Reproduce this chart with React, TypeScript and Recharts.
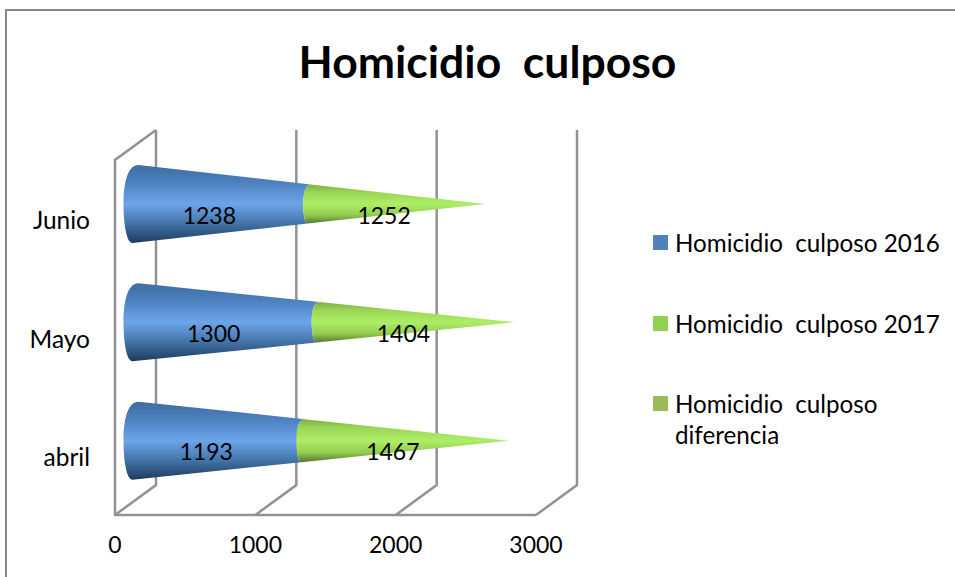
import { BarChart, Bar, XAxis, YAxis, CartesianGrid, Legend, LabelList } from 'recharts'

const months = ['Junio', 'Mayo', 'abril']
const values2016 = [1238, 1300, 1193]
const values2017 = [1252, 1404, 1467]
const valuesDiff = [0, 0, 0]
const xTicks = [0, 1000, 2000, 3000]

const data = months.map((month, i) => ({
  month,
  y2016: values2016[i],
  y2017: values2017[i],
  diff: valuesDiff[i],
}))

// plot frame, the 3d walls are drawn around it
const PLOT_LEFT = 135.5
const PLOT_TOP = 145
const PLOT_W = 421
const PLOT_H = 355
const DX = 20.5
const DY = 15
const WALL = '#929292'
const FONT = 'Lato, sans-serif'
const CONE_R = 39

function arc(x: number, cy: number, t: number, reverse: boolean) {
  const r = CONE_R * t
  if (reverse) {
    return `C ${x - 9 * t} ${cy + r} ${x - 12 * t} ${cy + 0.5 * r} ${x - 12 * t} ${cy} C ${x - 12 * t} ${cy - 0.45 * r} ${x - 9 * t} ${cy - r} ${x + 3 * t} ${cy - r}`
  }
  return `C ${x - 9 * t} ${cy - r} ${x - 12 * t} ${cy - 0.45 * r} ${x - 12 * t} ${cy} C ${x - 12 * t} ${cy + 0.5 * r} ${x - 9 * t} ${cy + r} ${x - 3 * t} ${cy + r}`
}

function BaseCone(props: any) {
  const { x, y, width, height, payload } = props
  const cy = y + height / 2
  const total = payload.y2016 + payload.y2017
  const L = (total * width) / payload.y2016
  const end = x + width
  const t = 1 - width / L
  const d = [
    `M ${x + 3} ${cy - CONE_R}`,
    `L ${end + 3 * t} ${cy - CONE_R * t}`,
    arc(end, cy, t, false),
    `L ${x - 3} ${cy + CONE_R}`,
    arc(x, cy, 1, true),
    'Z',
  ].join(' ')
  return <path d={d} fill="url(#coneBlue)" />
}

function TipCone(props: any) {
  const { x, y, width, height, payload } = props
  const cy = y + height / 2
  const total = payload.y2016 + payload.y2017
  const t = width / ((total * width) / payload.y2017)
  const d = [
    `M ${x + 3 * t} ${cy - CONE_R * t}`,
    `L ${x + width} ${cy}`,
    `L ${x - 3 * t} ${cy + CONE_R * t}`,
    arc(x, cy, t, true),
    'Z',
  ].join(' ')
  return <path d={d} fill="url(#coneGreen)" />
}

function WallLine(props: any) {
  const { x1, index } = props
  const bottom = PLOT_TOP + PLOT_H
  return (
    <g fill="none" stroke={WALL} strokeWidth={2.5}>
      <polyline
        points={`${x1 + DX},${PLOT_TOP - DY} ${x1 + DX},${bottom - DY} ${x1 - DX},${bottom + DY}`}
      />
      {index === 0 && (
        <polyline
          points={`${x1 + DX},${PLOT_TOP - DY} ${x1 - DX},${PLOT_TOP + DY} ${x1 - DX},${bottom + DY} ${x1 - DX + PLOT_W},${bottom + DY}`}
        />
      )}
    </g>
  )
}

function XTick({ x, y, payload }: any) {
  return (
    <text x={x - DX} y={y + 45} textAnchor="middle" fontFamily={FONT} fontSize={23} fill="#000">
      {payload.value}
    </text>
  )
}

function YTick({ x, y, payload }: any) {
  return (
    <text x={90} y={y + 25} textAnchor="end" fontFamily={FONT} fontSize={24.5} fill="#000">
      {payload.value}
    </text>
  )
}

function ConeLabel({ x, y, width, height, value }: any) {
  return (
    <text
      x={x + width / 2 - 13}
      y={y + height / 2 + 19.5}
      textAnchor="middle"
      fontFamily={FONT}
      fontSize={23}
      fill="#000"
    >
      {value}
    </text>
  )
}

function LegendList({ payload }: any) {
  const tops = [0, 81, 161]
  return (
    <div style={{ position: 'relative', height: 240, fontFamily: FONT, fontSize: 24.2, lineHeight: '31px', color: '#000' }}>
      {(payload || []).map((entry: any, i: number) => (
        <div key={entry.value} style={{ position: 'absolute', top: tops[i], left: 0, width: 300 }}>
          <span style={{ position: 'absolute', left: 3, top: 8, width: 15, height: 15, background: entry.color }} />
          <div style={{ marginLeft: 25, whiteSpace: 'pre-wrap', width: 275 }}>{entry.value}</div>
        </div>
      ))}
    </div>
  )
}

export default function App() {
  return (
    <div style={{ position: 'absolute', left: 0, top: 0, width: 955, height: 577, overflow: 'hidden', background: '#fff' }}>
      <div
        style={{
          position: 'absolute',
          left: 5,
          top: 9,
          width: 950,
          height: 600,
          borderLeft: '2px solid #868686',
          borderTop: '2px solid #868686',
          boxSizing: 'border-box',
        }}
      />
      <div
        style={{
          position: 'absolute',
          left: 0,
          width: 975,
          top: 34,
          textAlign: 'center',
          fontFamily: FONT,
          fontWeight: 700,
          fontSize: 44.5,
          lineHeight: '54px',
          whiteSpace: 'pre',
          color: '#000',
        }}
      >
        Homicidio  culposo
      </div>
      <BarChart
        width={955}
        height={577}
        data={data}
        layout="vertical"
        barSize={78}
        margin={{ top: PLOT_TOP, right: 955 - PLOT_LEFT - PLOT_W, bottom: 17, left: 0 }}
        style={{ position: 'absolute', left: 0, top: 0 }}
      >
        <defs>
          <linearGradient id="coneBlue" x1="0" y1="0" x2="0" y2="1">
            <stop offset="0" stopColor="#3f6ca3" />
            <stop offset="0.2" stopColor="#4a7ebb" />
            <stop offset="0.5" stopColor="#6da5ea" />
            <stop offset="0.75" stopColor="#4474a8" />
            <stop offset="1" stopColor="#1d3b5e" />
          </linearGradient>
          <linearGradient id="coneGreen" x1="0" y1="0" x2="0" y2="1">
            <stop offset="0" stopColor="#7fae42" />
            <stop offset="0.2" stopColor="#9ad656" />
            <stop offset="0.5" stopColor="#aeee66" />
            <stop offset="0.78" stopColor="#93cc50" />
            <stop offset="1" stopColor="#56782c" />
          </linearGradient>
        </defs>
        <CartesianGrid horizontal={false} vertical={WallLine} />
        <XAxis
          type="number"
          domain={[0, 3000]}
          ticks={xTicks}
          height={60}
          axisLine={false}
          tickLine={false}
          tick={XTick}
          interval={0}
        />
        <YAxis
          type="category"
          dataKey="month"
          width={PLOT_LEFT}
          axisLine={false}
          tickLine={false}
          tick={YTick}
        />
        <Legend
          layout="vertical"
          align="center"
          verticalAlign="middle"
          content={LegendList}
          wrapperStyle={{ left: 650, top: 227, width: 305 }}
        />
        <Bar dataKey="y2016" name="Homicidio  culposo 2016" stackId="a" fill="#4f81bd" shape={BaseCone} isAnimationActive={false}>
          <LabelList dataKey="y2016" content={ConeLabel} />
        </Bar>
        <Bar dataKey="y2017" name="Homicidio  culposo 2017" stackId="a" fill="#92d050" shape={TipCone} isAnimationActive={false}>
          <LabelList dataKey="y2017" content={ConeLabel} />
        </Bar>
        <Bar dataKey="diff" name="Homicidio  culposo diferencia" stackId="a" fill="#9bbb59" isAnimationActive={false} />
      </BarChart>
    </div>
  )
}
